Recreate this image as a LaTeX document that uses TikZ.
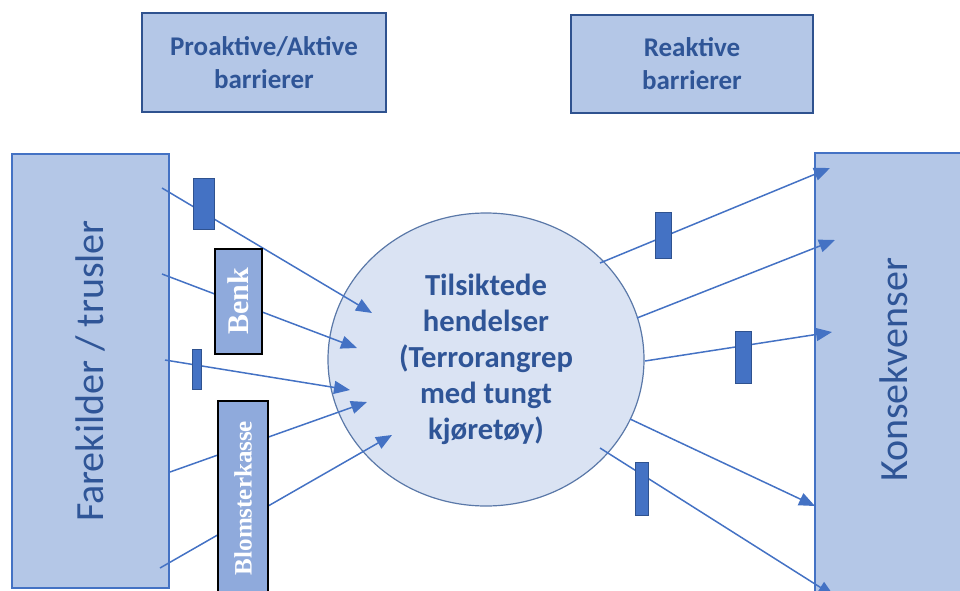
\documentclass[tikz,border=0pt]{standalone}
\usepackage{graphicx}
\usepackage{fontspec}
\setmainfont{Carlito}
\newfontfamily\timesfont{Liberation Serif}
\usepackage{xcolor}
\usetikzlibrary{shapes.geometric, arrows.meta}

\definecolor{linjeblaa}{HTML}{4472C4}
\definecolor{boksblaa}{HTML}{B4C7E7}
\definecolor{sirkelblaa}{HTML}{DAE3F3}
\definecolor{kantblaa}{HTML}{5A78A8}
\definecolor{tekstblaa}{HTML}{2F5597}
\definecolor{mellomblaa}{HTML}{8FAADC}
\definecolor{moerkblaa}{HTML}{2F528F}

\tikzset{
  stor/.style={draw=linjeblaa, fill=boksblaa, line width=0.6pt, inner sep=0pt,
    minimum width=78.5pt, minimum height=217pt, text=tekstblaa,
    font=\fontsize{20}{24}\selectfont},
  overskrift/.style={draw=moerkblaa, fill=boksblaa, line width=0.6pt, inner sep=0pt,
    minimum width=122pt, minimum height=49.5pt, align=center, text=tekstblaa,
    font=\bfseries\fontsize{13.5}{16.5}\selectfont},
  hendelse/.style={ellipse, draw=kantblaa, fill=sirkelblaa, line width=0.6pt, inner sep=0pt,
    minimum width=158pt, minimum height=146.5pt, align=center, text=tekstblaa,
    font=\bfseries\fontsize{15.3}{18}\selectfont},
  sperre/.style={draw=moerkblaa, fill=linjeblaa, line width=0.5pt, inner sep=0pt},
  tiltak/.style={draw=black, fill=mellomblaa, line width=1pt, inner sep=0pt,
    text=white, font=\timesfont\bfseries},
  pil/.style={draw=linjeblaa, line width=0.75pt, -{Triangle[length=8pt, width=6.5pt]}}
}

\begin{document}
\begin{tikzpicture}[x=0.5pt, y=-0.5pt]
  \clip (0,0) rectangle (960,590);

  % hovedboksene
  \node[stor] (fare) at (90.5,371) {\rotatebox{90}{Farekilder / trusler}};
  \node[stor, minimum height=224pt] (konsekvens) at (893.5,377) {\rotatebox{90}{\hspace*{7pt}Konsekvenser}};
  \node[hendelse] (hendelse) at (486,359.5) {Tilsiktede\\hendelser\\(Terrorangrep\\med tungt\\kjøretøy)};

  % overskrifter
  \node[overskrift] (proaktiv) at (264,62.5) {Proaktive/Aktive\\barrierer};
  \node[overskrift, minimum width=121pt, minimum height=49pt] (reaktiv) at (692,64) {Reaktive\\barrierer};

  % piler inn mot hendelsen
  \foreach \i/\sx/\sy/\ex/\ey in {1/162/188/372/313, 2/162/274/357/348, 3/165/360/350/390,
                                  4/170/472/367/402, 5/160/568/392/435}{
    \coordinate (inn\i) at (\sx,\sy);
    \coordinate (mot\i) at (\ex,\ey);
    \draw[pil] (inn\i) -- (mot\i);
  }

  % piler ut mot konsekvensene
  \foreach \i/\sx/\sy/\ex/\ey in {1/600/263/830/168, 2/637/318/835/240, 3/645/361/832/332,
                                  4/630/419/815/506, 5/600/448/834/596}{
    \coordinate (fra\i) at (\sx,\sy);
    \coordinate (til\i) at (\ex,\ey);
    \draw[pil] (fra\i) -- (til\i);
  }

  % barrierer
  \node[sperre, minimum width=10.5pt, minimum height=25.5pt] (sperre1) at (203.5,203.5) {};
  \node[sperre, minimum width=4.5pt, minimum height=20pt] (sperre2) at (196.5,369) {};
  \node[tiltak, minimum width=23.5pt, minimum height=52.5pt, font=\timesfont\bfseries\fontsize{15}{18}\selectfont] (benk) at (238.5,301.5) {\rotatebox{90}{Benk}};
  \node[tiltak, minimum width=25pt, minimum height=97pt, font=\timesfont\bfseries\fontsize{12.5}{15}\selectfont] (blomster) at (243,498) {\rotatebox{90}{Blomsterkasse}};

  \node[sperre, minimum width=8pt, minimum height=23pt] (sperre3) at (663,235) {};
  \node[sperre, minimum width=8pt, minimum height=26pt] (sperre4) at (743,357) {};
  \node[sperre, minimum width=6.5pt, minimum height=26.5pt] (sperre5) at (641.5,488.5) {};
\end{tikzpicture}
\end{document}
